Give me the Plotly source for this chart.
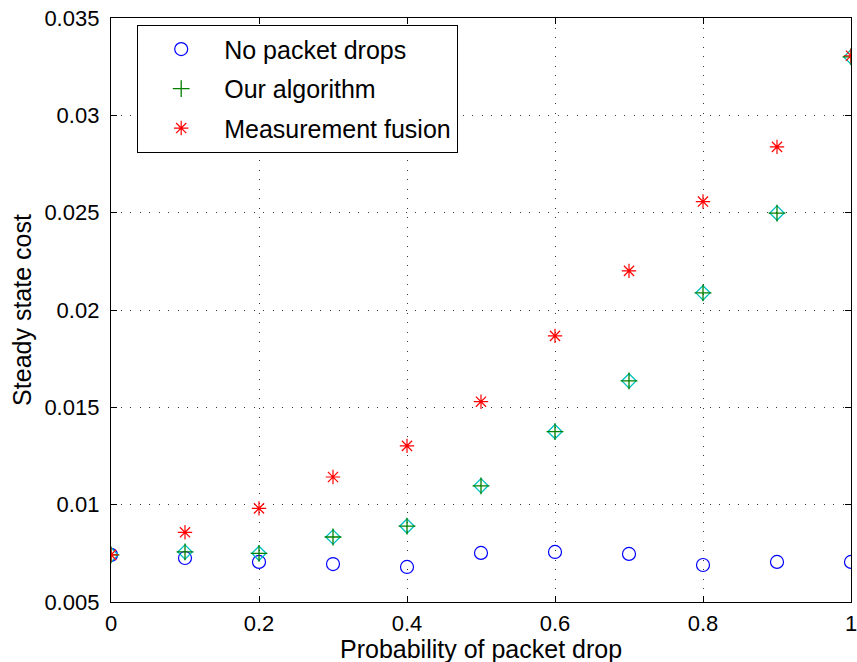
import plotly.graph_objects as go

# Probability of packet drop
drop_prob = [0.0, 0.1, 0.2, 0.3, 0.4, 0.5, 0.6, 0.7, 0.8, 0.9, 1.0]

# Steady state cost for each scheme
cost_no_drops = [0.00742, 0.00726, 0.00706, 0.00695, 0.0068, 0.00752, 0.00757, 0.00747, 0.0069, 0.00706, 0.00706]
cost_our_algorithm = [0.00742, 0.00757, 0.0075, 0.00834, 0.0089, 0.01097, 0.01375, 0.01636, 0.02088, 0.02498, 0.0330]
cost_measurement_fusion = [0.00742, 0.00858, 0.00981, 0.01142, 0.01302, 0.01529, 0.01867, 0.02201, 0.02557, 0.02838, 0.03306]

y_ticks = [0.005, 0.01, 0.015, 0.02, 0.025, 0.03, 0.035]
y_labels = ["0.005", "0.01", "0.015", "0.02", "0.025", "0.03", "0.035"]
x_ticks = [0, 0.2, 0.4, 0.6, 0.8, 1]
x_labels = ["0", "0.2", "0.4", "0.6", "0.8", "1"]

FONT = "Liberation Sans, Arial, Helvetica, sans-serif"
TICK_SIZE = 22
TEXT_SIZE = 25

fig = go.Figure()

fig.add_trace(go.Scatter(
    x=drop_prob, y=cost_no_drops, mode="markers", name="No packet drops",
    legendgroup="a",
    marker=dict(symbol="circle-open", size=13, color="#0000ff", line=dict(width=1.2)),
))
fig.add_trace(go.Scatter(
    x=drop_prob, y=cost_our_algorithm, mode="markers", name="diamond",
    showlegend=False,
    marker=dict(symbol="diamond-open", size=11, color="#00bfbf", line=dict(width=1.3)),
))
fig.add_trace(go.Scatter(
    x=drop_prob, y=cost_our_algorithm, mode="markers", name="Our algorithm",
    legendgroup="b",
    marker=dict(symbol="cross-thin-open", size=12, color="#008000", line=dict(width=1.3)),
))
fig.add_trace(go.Scatter(
    x=drop_prob, y=cost_measurement_fusion, mode="markers", name="Measurement fusion",
    legendgroup="c",
    marker=dict(symbol="asterisk-open", size=12, color="#ff0000", line=dict(width=1.2)),
))

axis_common = dict(
    showline=True, linecolor="black", linewidth=1.3, mirror="ticks",
    ticks="inside", ticklen=6, tickcolor="black", tickwidth=1,
    showgrid=True, gridcolor="#333333", griddash="1px,8.5px", gridwidth=1,
    zeroline=False, tickfont=dict(family=FONT, size=TICK_SIZE, color="black"),
    ticklabeloverflow="allow",
)

fig.update_xaxes(
    range=[0, 1], tickvals=x_ticks, ticktext=x_labels,
    ticklabelstandoff=1,
    **axis_common,
)
fig.update_yaxes(
    range=[0.005, 0.035], tickvals=y_ticks, ticktext=y_labels,
    ticklabelstandoff=6,
    title=dict(text="Steady state cost", font=dict(family=FONT, size=TEXT_SIZE, color="black"), standoff=5),
    **axis_common,
)

# x-axis title placed beneath the tick labels
fig.add_annotation(
    text="Probability of packet drop", xref="paper", yref="paper",
    x=0.5, y=0, xanchor="center", yanchor="top", yshift=-31,
    showarrow=False, font=dict(family=FONT, size=TEXT_SIZE, color="black"),
)

fig.update_layout(
    width=857, height=662,
    margin=dict(l=111, r=6, t=18, b=60, autoexpand=False),
    paper_bgcolor="white", plot_bgcolor="white",
    font=dict(family=FONT, size=TEXT_SIZE, color="black"),
    showlegend=True,
    legend=dict(
        x=0.035, y=0.988, xanchor="left", yanchor="top",
        bgcolor="white", bordercolor="black", borderwidth=1.3,
        font=dict(family=FONT, size=TEXT_SIZE, color="black"),
        traceorder="grouped", tracegroupgap=4,
        itemwidth=76,
    ),
)

fig.write_html("out.html")
